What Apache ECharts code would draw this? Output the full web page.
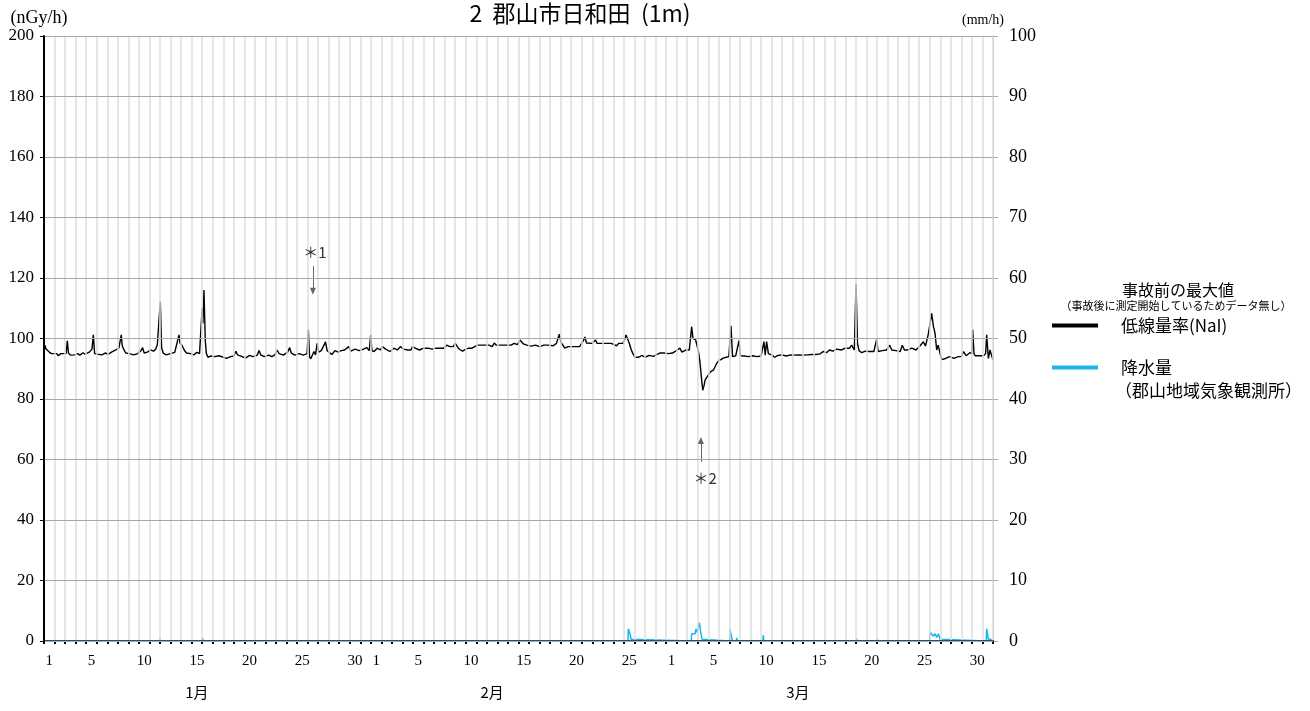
<!DOCTYPE html>
<html>
<head>
<meta charset="utf-8">
<script src="https://cdn.jsdelivr.net/npm/echarts@6/dist/echarts.min.js"></script>
<style>
html,body{margin:0;padding:0;background:#fff;}
#chart{width:1310px;height:711px;}
</style>
</head>
<body>
<div id="chart"></div>
<script>
// ---- categories / labels ----
const monthNames = ['1月', '2月', '3月'];
const monthLengths = [31, 28, 31];
const shownDays = [1, 5, 10, 15, 20, 25, 30];
const monthLabelIndex = [14, 42, 71];
const leftTicks = [0, 20, 40, 60, 80, 100, 120, 140, 160, 180, 200];
const rightTicks = [0, 10, 20, 30, 40, 50, 60, 70, 80, 90, 100];

// ---- air dose rate (nGy/h): [day offset from Jan 1 00:00, value] ----
const doseJan = [
[0.0,95.0],[0.08,97.8],[0.2,96.5],[0.35,97.0],[0.5,95.5],[0.7,95.0],[1.2,95.0],[1.35,94.3],[1.6,95.0],[2.1,95.0],[2.21,99.2],[2.32,95.2],[2.5,94.5],[2.9,94.6],[3.2,95.0],[3.4,94.5],[3.7,95.3],[3.9,94.8],[4.3,95.5],[4.55,96.5],[4.68,101.2],[4.8,95.0],[5.1,94.8],[5.5,94.6],[5.8,95.2],[6.1,94.8],[6.4,95.5],[6.8,96.2],[7.1,96.8],[7.33,101.2],[7.42,97.6],[7.55,96.5],[7.75,95.2],[8.1,95.0],[8.5,94.6],[8.9,95.0],[9.2,96.0],[9.35,97.0],[9.5,95.2],[9.8,95.5],[10.1,96.2],[10.4,95.8],[10.6,96.5],[10.75,98.0],[10.9,97.5],[11.03,112.2],[11.15,97.0],[11.3,95.2],[11.6,94.6],[12.0,95.0],[12.4,95.4],[12.8,101.2],[12.9,98.5],[13.1,97.6],[13.3,96.2],[13.5,95.2],[13.9,95.0],[14.2,94.6],[14.5,95.4],[14.75,95.0],[14.9,104],[15.0,110],[15.07,105],[15.17,116.0],[15.3,99.0],[15.4,95.0],[15.55,93.8],[15.8,94.2],[16.2,94.0],[16.6,94.3],[17.0,93.8],[17.3,93.4],[17.7,94.0],[18.0,94.2],[18.2,95.8],[18.35,94.6],[18.8,94.0],[19.1,93.5],[19.5,94.4],[19.8,94.0],[20.2,94.4],[20.4,96.0],[20.55,94.6],[20.9,94.0],[21.3,94.5],[21.6,94.0],[21.9,94.6],[22.1,96.2],[22.3,95.0],[22.7,94.5],[23.1,95.5],[23.3,97.0],[23.45,95.2],[23.8,94.5],[24.2,95.0],[24.6,94.5],[24.95,95.0],[25.07,103.0],[25.18,94.0],[25.3,93.3],[25.6,95.7],[25.75,94.6],[25.9,98.4],[26.05,95.5],[26.3,96.0],[26.7,98.9],[26.85,96.0],[27.0,95.5],[27.3,94.7],[27.6,96.0],[27.9,95.5],[28.2,96.0],[28.5,96.2],[28.9,97.3],[29.1,95.8],[29.5,96.5],[29.9,96.0],[30.3,96.5],[30.6,97.0],[30.85,96.0],[30.98,101.2]
];
const doseFeb = [
[31.1,96.0],[31.3,95.7],[31.6,96.8],[31.9,96.2],[32.1,97.3],[32.4,96.5],[32.8,95.7],[33.2,96.8],[33.5,96.2],[33.8,97.3],[34.1,96.5],[34.5,96.2],[34.8,96.2],[34.95,97.3],[35.2,96.8],[35.6,96.2],[36.0,96.8],[36.4,96.8],[36.8,96.5],[37.2,96.8],[37.6,96.8],[37.9,96.8],[38.2,97.8],[38.5,97.3],[38.8,97.3],[39.0,98.4],[39.3,96.8],[39.5,96.2],[39.7,95.8],[40.0,96.5],[40.3,96.8],[40.6,96.8],[41.1,97.8],[41.4,97.8],[41.8,97.8],[42.2,97.8],[42.5,97.3],[42.7,98.5],[42.9,97.8],[43.3,97.8],[43.7,97.8],[44.0,97.8],[44.3,97.8],[44.6,98.4],[44.9,98.0],[45.14,99.5],[45.3,99.0],[45.46,98.2],[45.8,97.8],[46.2,97.5],[46.6,97.8],[47.0,97.3],[47.4,97.8],[47.8,97.8],[48.3,97.6],[48.6,98.4],[48.87,101.4],[49.05,98.6],[49.4,96.8],[49.7,97.3],[50.2,97.3],[50.8,97.3],[51.15,99.3],[51.3,100.5],[51.45,98.5],[51.6,98.4],[52.0,98.4],[52.3,99.5],[52.45,98.4],[52.8,98.4],[53.3,98.4],[53.8,98.4],[54.3,97.6],[54.5,98.4],[54.9,98.4],[55.05,99.5],[55.2,101.2],[55.35,99.8],[55.5,98.5],[55.7,96.2],[55.85,95.0],[56.05,93.8],[56.4,93.8],[56.7,94.4],[57.0,93.8],[57.4,94.4],[57.8,94.1],[58.1,94.7],[58.4,95.2],[58.8,95.2]
];
const doseMar = [
[59.2,95.0],[59.6,95.2],[59.9,95.8],[60.3,96.8],[60.5,95.5],[60.9,96.2],[61.2,96.2],[61.42,103.9],[61.55,100],[61.64,99.8],[61.8,99.5],[61.9,98.9],[62.05,96],[62.2,92.5],[62.35,87],[62.47,82.9],[62.6,84.5],[62.7,86.3],[62.85,86.8],[63.0,87.9],[63.2,89.0],[63.5,89.6],[63.75,91.5],[64.0,92.8],[64.2,93.0],[64.4,93.5],[64.7,93.8],[64.95,94.0],[65.15,104.2],[65.3,94.0],[65.6,94.3],[65.91,99.3],[66.05,94.3],[66.4,94.2],[66.8,94.0],[67.2,94.3],[67.6,94.0],[68.0,94.2],[68.28,99.0],[68.4,94.5],[68.53,99.0],[68.7,95.0],[69.0,94.6],[69.3,93.8],[69.6,94.4],[70.0,94.6],[70.4,94.2],[70.8,94.6],[71.2,94.5],[71.6,94.6],[72.0,94.5],[72.4,94.6],[72.8,94.7],[73.2,94.7],[73.6,94.9],[73.9,95.7],[74.2,95.3],[74.5,96.2],[74.8,95.8],[75.2,96.5],[75.6,96.2],[76.0,96.8],[76.4,96.8],[76.6,97.8],[76.85,96.2],[77.01,118.0],[77.15,98.4],[77.3,96.0],[77.55,95.3],[77.9,95.8],[78.3,95.7],[78.7,95.7],[78.97,99.8],[79.1,95.7],[79.5,96.0],[79.9,96.2],[80.2,97.8],[80.4,96.2],[80.8,96.0],[81.2,95.7],[81.4,97.8],[81.6,96.2],[81.9,96.2],[82.3,96.8],[82.7,96.2],[83.0,97.3],[83.4,98.9],[83.6,97.5],[83.87,101.5],[84.18,108.3],[84.35,104],[84.5,101.8],[84.66,96.2],[84.8,97.8],[84.95,95.5],[85.13,93.0],[85.5,93.4],[85.9,94.0],[86.3,93.4],[86.7,94.0],[87.0,94.0],[87.2,95.7],[87.45,94.3],[87.8,95.3],[88.0,95.0],[88.07,103.0],[88.2,95.0],[88.3,94.3],[88.7,94.3],[89.1,94.3],[89.3,95.0],[89.4,101.2],[89.56,93.4],[89.72,96.2],[89.85,94.5],[90.0,93.0]
];

// ---- precipitation (mm/h): [day offset, value] ----
const precip = [
[0,0],[10.95,0],[11.0,0.4],[11.06,0],[14.95,0],[15.0,0.5],[15.08,0.4],[15.15,0],[55.38,0],[55.42,2.0],[55.52,2.0],[55.6,1.0],[55.66,0.3],[55.7,0],[61.38,0],[61.42,1.2],[61.74,1.2],[61.83,2.0],[61.96,1.4],[62.06,2.4],[62.15,3.0],[62.28,1.5],[62.4,0.3],[62.45,0],[65.02,0],[65.06,2.0],[65.22,0.5],[65.3,0],[65.66,0],[65.7,0.5],[65.75,0],[68.18,0],[68.22,1.0],[68.27,0],[77.03,0],[77.07,0.4],[77.11,0],[78.99,0],[79.03,0.4],[79.07,0],[83.99,0],[84.03,1.5],[84.2,1.3],[84.35,0.8],[84.5,1.2],[84.66,0.6],[84.82,1.2],[84.98,0.3],[85.02,0],[89.36,0],[89.4,2.0],[89.55,0.3],[89.75,0.3],[89.88,0.6],[89.95,0],[90,0]
];

// annotation anchors (data coordinates)
const note1 = {label: '＊1', text: [25.7, 128.6], from: [25.5, 124.0], to: [25.5, 115.6]};
const note2 = {label: '＊2', text: [62.7, 53.9], from: [62.3, 59.2], to: [62.3, 66.3]};

// ---- build categories ----
const dayCats = [];
monthLengths.forEach((len, m) => {
  for (let d = 1; d <= len; d++) {
    dayCats.push(m + '-' + d);
  }
});
const totalDays = dayCats.length;

const SERIF = "'Liberation Serif','DejaVu Serif','Noto Sans CJK JP',serif";
const CJK = "'Noto Sans CJK JP','Liberation Serif',sans-serif";

const chart = echarts.init(document.getElementById('chart'), null, {renderer: 'canvas'});
const option = {
  animation: false,
  backgroundColor: '#fff',
  title: {
    text: '2  郡山市日和田  (1m)',
    left: 575, top: -3,
    textAlign: 'center',
    textStyle: {fontFamily: CJK, fontSize: 23, fontWeight: 'normal', color: '#000'}
  },
  grid: {left: 44, right: 317, top: 36, bottom: 70, containLabel: false},
  legend: {
    orient: 'vertical', left: 1052, top: 315, padding: 0,
    itemWidth: 46, itemHeight: 4, itemGap: 21,
    icon: 'rect',
    textStyle: {fontFamily: CJK, fontSize: 17, color: '#000', padding: [0, 0, 0, 18], lineHeight: 21},
    data: ['低線量率(NaI)', '降水量']
  },
  graphic: [
    {type: 'text', x: 1178, y: 290, style: {text: '事故前の最大値', font: "16px 'Noto Sans CJK JP'", fill: '#000', align: 'center', verticalAlign: 'middle'}},
    {type: 'text', x: 1176, y: 306, style: {text: '（事故後に測定開始しているためデータ無し）', font: "11px 'Noto Sans CJK JP'", fill: '#000', align: 'center', verticalAlign: 'middle'}},
    {type: 'text', x: 1115, y: 391, style: {text: '（郡山地域気象観測所）', font: "17px 'Noto Sans CJK JP'", fill: '#000', align: 'left', verticalAlign: 'middle'}}
  ],
  xAxis: [
    {
      type: 'category', data: dayCats, boundaryGap: true, position: 'bottom', z: 5,
      axisLine: {show: true, lineStyle: {color: '#17587a', width: 2}},
      axisTick: {show: true, interval: 0, length: 3, lineStyle: {color: '#000', width: 2}},
      axisLabel: {
        interval: 0, margin: 13, fontFamily: SERIF, fontSize: 15, color: '#000',
        formatter: (v) => {
          const d = parseInt(v.split('-')[1], 10);
          return shownDays.indexOf(d) >= 0 ? String(d) : '';
        }
      },
      splitLine: {show: true, interval: 0, lineStyle: {color: '#dedede', width: 1.5}}
    },
    {
      type: 'category', data: dayCats, boundaryGap: true, position: 'bottom', offset: 36,
      axisLine: {show: false}, axisTick: {show: false}, splitLine: {show: false},
      axisLabel: {
        interval: 0, fontFamily: CJK, fontSize: 15, color: '#000',
        formatter: (v, i) => {
          const k = monthLabelIndex.indexOf(i);
          return k >= 0 ? monthNames[k] : '';
        }
      }
    },
    {type: 'value', min: 0, max: totalDays, show: false}
  ],
  yAxis: [
    {
      type: 'value', min: leftTicks[0], max: leftTicks[leftTicks.length - 1], interval: 20, position: 'left', z: 6,
      name: '(nGy/h)', nameLocation: 'end', nameGap: 9,
      nameTextStyle: {fontFamily: SERIF, fontSize: 18, color: '#000', align: 'center', padding: [0, 10, 0, 0]},
      axisLine: {show: true, lineStyle: {color: '#000', width: 2}},
      axisTick: {show: true, length: 4, lineStyle: {color: '#000', width: 1}},
      axisLabel: {fontFamily: SERIF, fontSize: 17, color: '#000', margin: 10},
      splitLine: {show: true, lineStyle: {color: '#a8a8a8', width: 1}}
    },
    {
      type: 'value', min: rightTicks[0], max: rightTicks[rightTicks.length - 1], interval: 10, position: 'right',
      name: '(mm/h)', nameLocation: 'end', nameGap: 9,
      nameTextStyle: {fontFamily: SERIF, fontSize: 14, color: '#000', align: 'center', padding: [0, 20, 0, 0]},
      axisLine: {show: true, lineStyle: {color: '#a8a8a8', width: 1}},
      axisTick: {show: true, length: 5, lineStyle: {color: '#a8a8a8', width: 1}},
      axisLabel: {fontFamily: SERIF, fontSize: 18, color: '#000', margin: 16},
      splitLine: {show: false}
    }
  ],
  series: [
    {
      name: '低線量率(NaI)', type: 'line', xAxisIndex: 2, yAxisIndex: 0,
      data: doseJan.concat(doseFeb, doseMar),
      showSymbol: false, symbol: 'none',
      color: '#000', itemStyle: {color: '#000'},
      lineStyle: {color: '#000', width: 1.4},
      z: 3,
      markLine: {
        silent: true, symbol: ['none', 'triangle'], symbolSize: [6, 7],
        lineStyle: {color: '#666', width: 1, type: 'solid'},
        label: {show: false},
        data: [
          [{coord: note1.from}, {coord: note1.to}],
          [{coord: note2.from}, {coord: note2.to}]
        ]
      },
      markPoint: {
        silent: true, symbol: 'circle', symbolSize: 0,
        label: {show: true, position: 'inside', fontFamily: CJK, fontSize: 15, color: '#333', formatter: (p) => p.name},
        data: [
          {name: note1.label, coord: note1.text},
          {name: note2.label, coord: note2.text}
        ]
      }
    },
    {
      name: '降水量', type: 'line', xAxisIndex: 2, yAxisIndex: 1,
      data: precip,
      showSymbol: false, symbol: 'none',
      color: '#1eb4ea', itemStyle: {color: '#1eb4ea'},
      lineStyle: {color: '#1eb4ea', width: 1.5},
      z: 2
    }
  ]
};
chart.setOption(option);
</script>
</body>
</html>
